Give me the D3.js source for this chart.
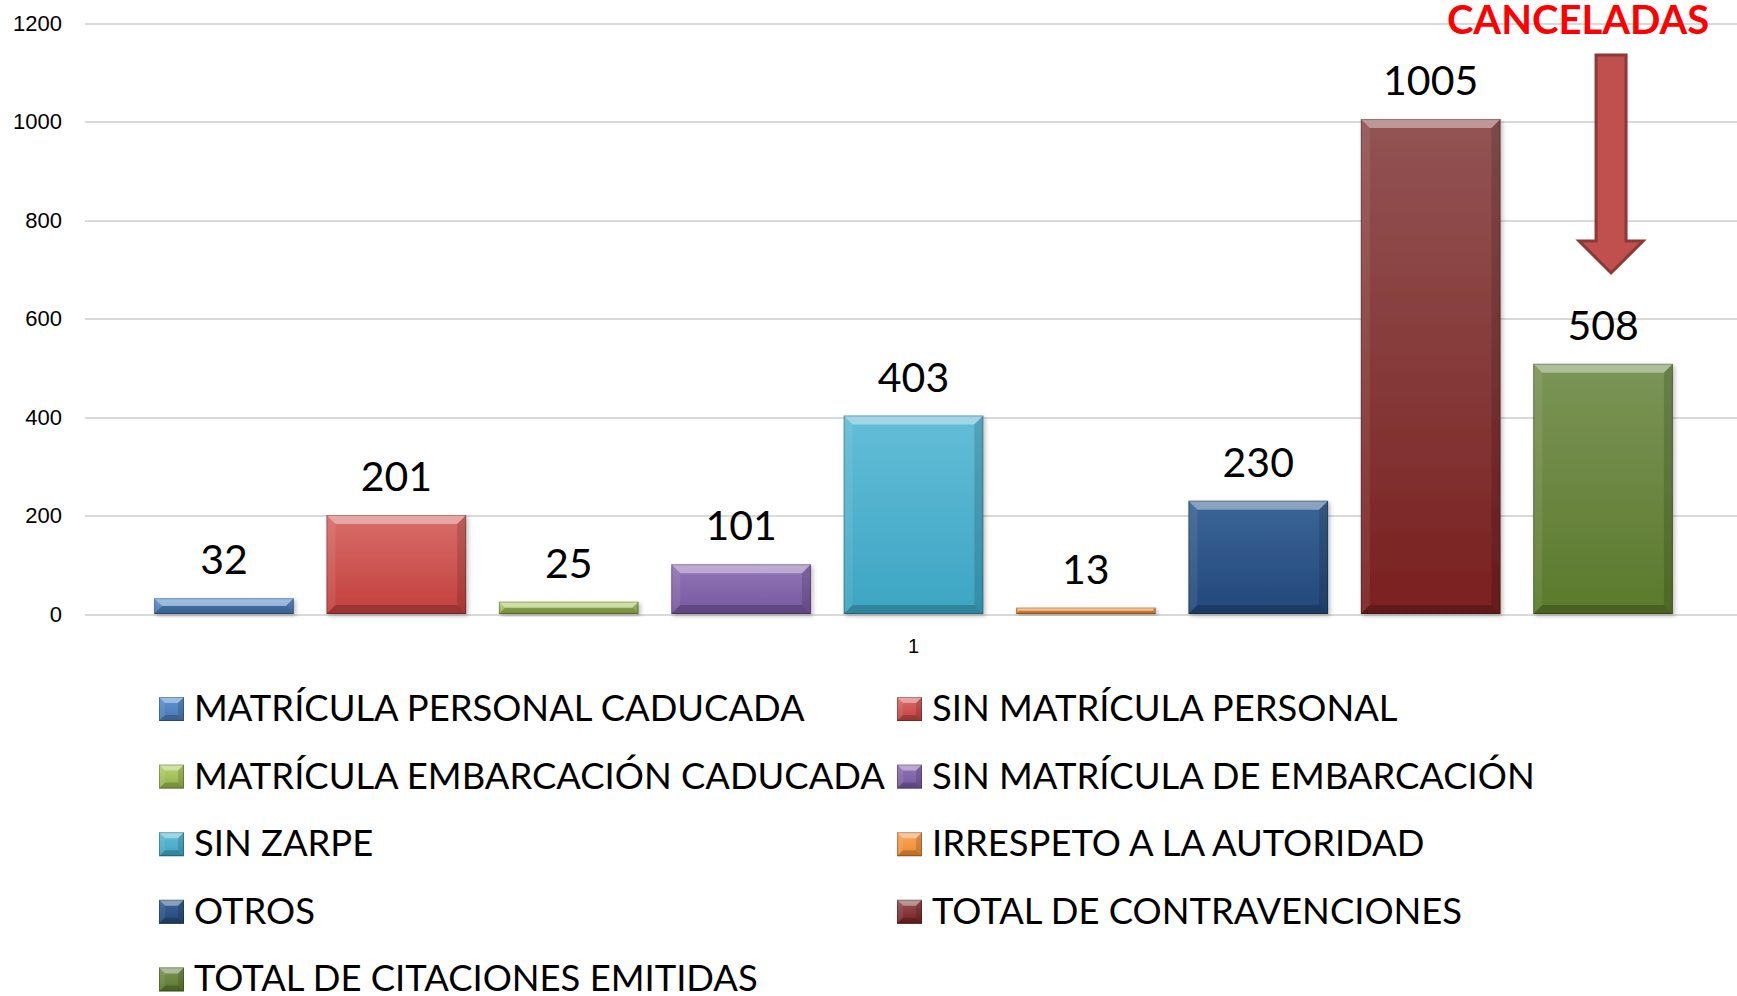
<!DOCTYPE html>
<html lang="es">
<head>
<meta charset="UTF-8">
<title>Contravenciones</title>
<style>
  body { margin: 0; background: #fff; }
  svg { display: block; font-family: Lato, "Open Sans", sans-serif; }
  .grid line { stroke: #d9d9d9; stroke-width: 2px; shape-rendering: crispEdges; }
  .grid text { font-size: 22px; fill: #000; }
  .xaxis text { font-size: 20px; fill: #000; }
</style>
</head>
<body>
<svg width="1737" height="996"></svg>
<script src="https://d3js.org/d3.v7.min.js"></script>
<script>
// data
const categories = ["1"];
const series = [
  "MATRÍCULA PERSONAL CADUCADA",
  "SIN MATRÍCULA PERSONAL",
  "MATRÍCULA EMBARCACIÓN CADUCADA",
  "SIN MATRÍCULA DE EMBARCACIÓN",
  "SIN ZARPE",
  "IRRESPETO A LA AUTORIDAD",
  "OTROS",
  "TOTAL DE CONTRAVENCIONES",
  "TOTAL DE CITACIONES EMITIDAS"
];
const values = [32, 201, 25, 101, 403, 13, 230, 1005, 508];
const yTicks = [0, 200, 400, 600, 800, 1000, 1200];
const annotationText = "CANCELADAS";

// colours (top / bottom of the gradient)
const topColors = ["#5f93d2", "#d96d69", "#b6d26f", "#9275b6", "#63bdd7", "#f9a65e", "#3b6596", "#925453", "#7b9458"];
const bottomColors = ["#4777b2", "#c2403d", "#92b24a", "#7657a0", "#3ca5c3", "#ef8a30", "#23487a", "#7a2020", "#5b7a2b"];

const margin = {left: 85, right: -5, top: 23, bottom: 382};
const W = 1737, H = 996;
const svg = d3.select("svg");

const x0 = d3.scaleBand()
  .domain(categories)
  .range([margin.left, W - margin.right])
  .paddingInner(0)
  .paddingOuter(0.034);

const x1 = d3.scaleBand()
  .domain(series)
  .range([0, x0.bandwidth()])
  .paddingInner(0.19)
  .paddingOuter(0.095);

const y = d3.scaleLinear()
  .domain([0, 1200])
  .range([H - margin.bottom, margin.top]);

// defs: gradients + shadow
const defs = svg.append("defs");
series.forEach(function(s, i) {
  const g = defs.append("linearGradient")
    .attr("id", "grad" + i)
    .attr("x1", 0).attr("y1", 0).attr("x2", 0).attr("y2", 1);
  g.append("stop").attr("offset", "0%").attr("stop-color", topColors[i]);
  g.append("stop").attr("offset", "100%").attr("stop-color", bottomColors[i]);
});
const sh = defs.append("filter").attr("id", "shadow")
  .attr("x", "-10%").attr("y", "-10%").attr("width", "130%").attr("height", "130%");
sh.append("feDropShadow").attr("dx", 2).attr("dy", 2).attr("stdDeviation", 2)
  .attr("flood-color", "#000").attr("flood-opacity", 0.25);

// grid + y axis
const yAxis = svg.append("g")
  .attr("class", "grid")
  .attr("transform", "translate(" + margin.left + ",0)")
  .call(d3.axisLeft(y)
    .tickValues(yTicks)
    .tickFormat(d3.format("d"))
    .tickSizeInner(-(W - margin.right - margin.left))
    .tickSizeOuter(0)
    .tickPadding(23));
yAxis.select(".domain").remove();

// x axis label
const xAxis = svg.append("g")
  .attr("class", "xaxis")
  .attr("transform", "translate(0," + (y(0) + 13) + ")")
  .call(d3.axisBottom(x0).tickSize(0).tickPadding(12));
xAxis.select(".domain").remove();

// beveled box
function bevelBox(g, bx, by, bw, bh, i, depth) {
  const b = Math.min(depth, bh / 2, bw / 2);
  g.append("rect")
    .attr("x", bx).attr("y", by).attr("width", bw).attr("height", bh)
    .attr("fill", "url(#grad" + i + ")");
  const x2 = bx + bw, y2 = by + bh;
  const poly = function(pts, fill, op) {
    g.append("polygon")
      .attr("points", pts.map(function(p) { return p.join(","); }).join(" "))
      .attr("fill", fill).attr("fill-opacity", op);
  };
  poly([[bx, by], [x2, by], [x2 - b, by + b], [bx + b, by + b]], "#fff", 0.4);
  poly([[bx, by], [bx + b, by + b], [bx + b, y2 - b], [bx, y2]], "#fff", 0.08);
  poly([[x2, by], [x2, y2], [x2 - b, y2 - b], [x2 - b, by + b]], "#000", 0.14);
  poly([[bx, y2], [bx + b, y2 - b], [x2 - b, y2 - b], [x2, y2]], "#000", 0.2);
  g.append("rect")
    .attr("x", bx + 0.5).attr("y", by + 0.5).attr("width", Math.max(bw - 1, 0)).attr("height", Math.max(bh - 1, 0))
    .attr("fill", "none").attr("stroke", "#000").attr("stroke-opacity", 0.25).attr("stroke-width", 1);
}

// bars
const barG = svg.append("g");
categories.forEach(function(c) {
  series.forEach(function(s, i) {
    const bx = x0(c) + x1(s);
    const g = barG.append("g").attr("filter", "url(#shadow)");
    bevelBox(g, bx, y(values[i]), x1.bandwidth(), y(0) - y(values[i]), i, 9);
  });
});

// data labels
svg.append("g").selectAll("text")
  .data(values)
  .join("text")
  .attr("x", function(d, i) { return x0(categories[0]) + x1(series[i]) + x1.bandwidth() / 2; })
  .attr("y", function(d) { return y(d) - 24; })
  .attr("text-anchor", "middle")
  .style("font-size", "41px")
  .text(function(d) { return d; });

// annotation: CANCELADAS + arrow over the last bar
const lastX = x0(categories[0]) + x1(series[series.length - 1]) + x1.bandwidth() / 2;
svg.append("text")
  .attr("x", lastX - 25)
  .attr("y", 34)
  .attr("text-anchor", "middle")
  .style("font-size", "40px")
  .style("font-weight", "bold")
  .style("fill", "#ff0000")
  .text(annotationText);

const ax = lastX + 8;
const arrowPts = [
  [ax - 15, 55], [ax + 15, 55], [ax + 15, 241], [ax + 32, 241],
  [ax, 273], [ax - 32, 241], [ax - 15, 241]
];
svg.append("polygon")
  .attr("points", arrowPts.map(function(p) { return p.join(","); }).join(" "))
  .attr("fill", "#c0504d")
  .attr("stroke", "#8c3836")
  .attr("stroke-width", 3)
  .attr("stroke-linejoin", "miter");

// legend
const legend = svg.append("g").selectAll("g")
  .data(series)
  .join("g")
  .attr("transform", function(d, i) {
    const col = i % 2, row = Math.floor(i / 2);
    return "translate(" + (col === 0 ? 159 : 897) + "," + (697 + row * 67.6) + ")";
  });

legend.each(function(d, i) {
  bevelBox(d3.select(this), 0, 0, 25, 24, i, 6);
});

legend.append("text")
  .attr("x", 35)
  .attr("y", 24)
  .style("font-size", "36.4px")
  .text(function(d) { return d; });
</script>
</body>
</html>
